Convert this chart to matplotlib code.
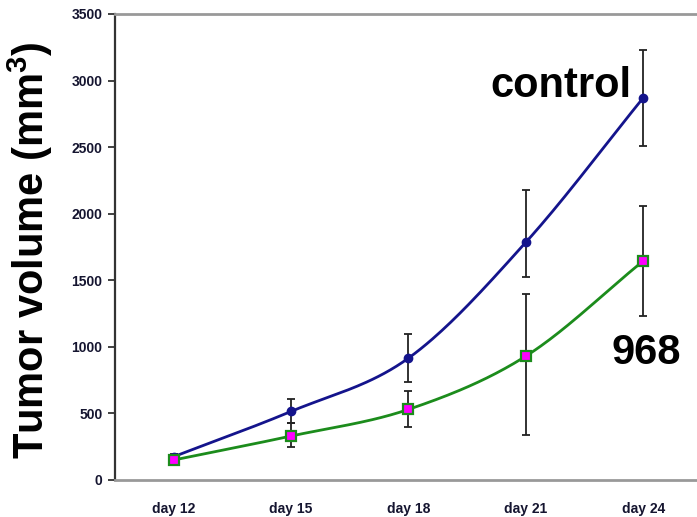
import numpy as np
import matplotlib
matplotlib.use("Agg")
import matplotlib.pyplot as plt

plt.rcParams["font.family"] = ["Liberation Sans", "DejaVu Sans"]
plt.rcParams["mathtext.fontset"] = "custom"
plt.rcParams["mathtext.bf"] = "Liberation Sans:bold"
plt.rcParams["mathtext.rm"] = "Liberation Sans"

days = ["day 12", "day 15", "day 18", "day 21", "day 24"]

control = [175, 515, 915, 1785, 2870]
control_err_lo = [20, 90, 180, 260, 360]
control_err_hi = [20, 90, 180, 390, 360]

drug968 = [150, 330, 530, 930, 1645]
drug968_err_lo = [15, 80, 130, 590, 415]
drug968_err_hi = [15, 100, 135, 470, 415]

y_ticks = [0, 500, 1000, 1500, 2000, 2500, 3000, 3500]


def smooth(y, n=40):
    # Catmull-Rom style smoothing like spreadsheet "smoothed line"
    x = np.arange(len(y), dtype=float)
    y = np.asarray(y, dtype=float)
    px = np.concatenate([[2 * x[0] - x[1]], x, [2 * x[-1] - x[-2]]])
    py = np.concatenate([[2 * y[0] - y[1]], y, [2 * y[-1] - y[-2]]])
    xs, ys = [], []
    t = np.linspace(0, 1, n)
    for i in range(1, len(px) - 2):
        for p, out in ((px, xs), (py, ys)):
            p0, p1, p2, p3 = p[i - 1], p[i], p[i + 1], p[i + 2]
            out.extend(0.5 * ((2 * p1) + (-p0 + p2) * t
                              + (2 * p0 - 5 * p1 + 4 * p2 - p3) * t ** 2
                              + (-p0 + 3 * p1 - 3 * p2 + p3) * t ** 3))
    return np.array(xs), np.array(ys)


fig = plt.figure(figsize=(6.97, 5.17), dpi=100)
ax = fig.add_axes([0.165, 0.0716, 0.842, 0.9014])

x = np.arange(len(days))
navy = "#14148c"
green = "#1c8c1c"

sx, sy = smooth(control)
ax.plot(sx, sy, color=navy, lw=2, zorder=2)
sx, sy = smooth(drug968)
ax.plot(sx, sy, color=green, lw=2, zorder=2)

ax.errorbar(x, control, yerr=[control_err_lo, control_err_hi], fmt="none",
            ecolor="#222222", elinewidth=1.3, capsize=3, capthick=1.3, zorder=3)
ax.errorbar(x, drug968, yerr=[drug968_err_lo, drug968_err_hi], fmt="none",
            ecolor="#222222", elinewidth=1.3, capsize=3, capthick=1.3, zorder=3)

ax.plot(x, control, "o", color=navy, ms=6, zorder=4)
ax.plot(x, drug968, "s", mfc="#ff00ff", mec=green, mew=1.6, ms=6.5, zorder=4)

ax.set_xlim(-0.5, 4.5)
ax.set_ylim(0, 3500)
ax.set_yticks(y_ticks)
ax.set_yticklabels([str(v) for v in y_ticks], fontsize=10, fontweight="bold",
                   color="#151530")
ax.set_xticks(x)
ax.set_xticklabels(days, fontsize=10, fontweight="bold", color="#151530")
ax.tick_params(axis="x", length=0, pad=16)
ax.tick_params(axis="y", length=5, width=1.3, color="#333333", pad=4)

ax.spines["right"].set_visible(False)
ax.spines["left"].set_color("#333333")
ax.spines["left"].set_linewidth(1.6)
ax.spines["top"].set_color("#999999")
ax.spines["top"].set_linewidth(2)
ax.spines["bottom"].set_color("#999999")
ax.spines["bottom"].set_linewidth(2)

ax.text(2.694, 2877, "control", fontsize=30, fontweight="bold",
        ha="left", va="baseline")
ax.text(3.733, 871, "968", fontsize=30, fontweight="bold",
        ha="left", va="baseline")

fig.text(0.043, 0.516, "Tumor volume (mm$^\\mathbf{3}$)", fontsize=30,
         fontweight="bold", rotation=90, ha="center", va="center")

fig.savefig("out.png", dpi=100)
